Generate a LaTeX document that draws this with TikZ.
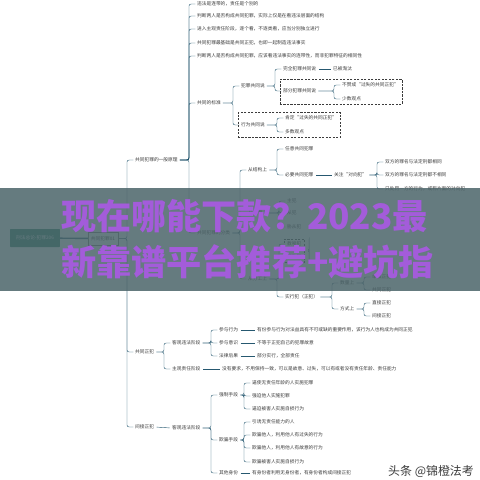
\documentclass[tikz,border=0pt]{standalone}
\usepackage{fontspec}
\setmainfont{Noto Sans CJK SC}
\usetikzlibrary{calc,fit,decorations.pathreplacing}
\definecolor{linkteal}{RGB}{38,88,112}
\definecolor{roottone}{RGB}{34,122,98}
\definecolor{bannergray}{RGB}{75,100,105}
\definecolor{bannerpurple}{RGB}{163,92,218}
\definecolor{inkgray}{RGB}{60,60,60}

% parent -> list of children, curly fork
\newcommand{\fork}[2]{%
  \foreach \c in {#2}
    \draw[link] let \p1=(\c.west), \p2=(#1.east) in
      (\p2) -- (\x1-10pt,\y2) -- (\x1-10pt,\y1) -- (\p1);}

\begin{document}
\begin{tikzpicture}[
    x=0.05cm, y=-0.05cm,
    font=\fontsize{6.7}{7}\selectfont,
    txt/.style={anchor=west, inner sep=1.5pt, text=inkgray},
    link/.style={draw=linkteal, line width=0.6pt, rounded corners=3pt, shorten <=1.5pt, shorten >=1pt},
    trunk/.style={draw=linkteal, line width=2pt},
    rootbox/.style={rectangle, rounded corners=1pt, fill=roottone, text=white, minimum width=2.5cm, minimum height=0.9cm, inner sep=1pt},
    subbox/.style={rectangle, draw=inkgray!70, fill=white, line width=0.5pt, minimum width=1.5cm, minimum height=0.65cm, inner sep=1pt, text=inkgray},
    dashbox/.style={draw=inkgray, densely dashed, line width=0.5pt, inner sep=3pt},
    bannertxt/.style={anchor=west, inner sep=0pt, text=bannerpurple, font=\fontsize{50}{50}\selectfont\bfseries},
    wmtext/.style={anchor=east, inner sep=0pt, text=inkgray, font=\fontsize{17}{17}\selectfont}
  ]
  \fill[white] (0,0) rectangle (480,480);
  \useasboundingbox (0,0) rectangle (480,480);

  \node[rootbox] (root) at (35,238) {刑法总论-犯罪206};
  \node[subbox] (g01) at (103,238.5) {共同犯罪01};
  \draw[trunk] (root) -- (g01);

  \foreach \n/\x/\y/\t in {
      yb/134/160/共同犯罪的一般原理, gz/134/352/共同正犯, jj/134/427/间接正犯,
      t1/196/4/违法是连带的，责任是个别的,
      t2/196/16/判断两人是否构成共同犯罪，实际上仅是在看违法层面的结构,
      t3/196/29/进入主观责任阶段，逐个看，不逐类看，应当分别独立进行,
      t4/196/43/共同犯罪最基础是共同正犯，也即一起制造违法事实,
      t5/196/56/判断两人是否构成共同犯罪，应该看违法事实的连带性，而非犯罪特征的相同性,
      bz/196/103/共同的标准, fl/196/233/共同犯罪的分类,
      fz/240/86/犯罪共同说, xw/240/125/行为共同说,
      wq/282/69/完全犯罪共同说, yt/332/69/已被淘汰, bf/282/91/部分犯罪共同说,
      bzc/341/85/不赞成“过失的共同正犯”, ss/341/99/少数观点,
      kd/284/118/肯定“过失的共同正犯”, ds/284/132/多数观点,
      jg/247/170/从结构上, zy/247/213/从作用上, fg/247/279/从分工上,
      ry/284/149/任意共同犯罪, by/284/175/必要共同犯罪, dx/333/175/关注“对向犯”,
      d1/384/162/双方的罪名与法定刑都相同, d2/384/175/双方的罪名与法定刑都不相同,
      d3/384/189/只处罚一方的行为，或称片面的对向犯,
      zf/286/201/主犯, cf/286/213/从犯, xc/286/227/胁从犯,
      js/286/244/教唆犯, bzf/286/257/帮助犯, sx/284/297/实行犯（正犯）,
      sl/339/283/数量上, fs/339/309/方式上,
      dd/371/277/单独正犯, gt/371/290/共同正犯, zj/371/303/直接正犯, jz/371/316/间接正犯,
      kg/171/343/客观违法阶段, zg/171/369/主观责任阶段,
      cy/218/330/参与行为, cs/218/343/参与意识, fh/218/356/法律后果,
      e1/256/330/有份参与行为对法益具有不可或缺的重要作用，该行为人也构成为共同正犯,
      e2/256/343/不等于正犯自己的犯罪故意, e3/256/356/部分实行，全部责任,
      e4/221/369/没有要求，不用保持一致，可以是故意、过失，可以有或者没有责任年龄、责任能力,
      kw/171/428/客观违法阶段,
      qz/218/395/强制手段, qp/218/440/欺骗手段, sf/218/473/其他身份,
      q1/251/383/逼使无责任年龄的人实施犯罪, q2/251/396/强迫他人实施犯罪,
      q3/251/409/逼迫被害人实施自损行为,
      p1/251/422/引诱无责任能力的人, p2/251/435/欺骗他人，利用他人有过失的行为,
      p3/251/448/欺骗他人，利用他人有故意的行为, p4/251/462/欺骗被害人实施自损行为,
      s1/251/473/有身份者利用无身份者，有身份者构成间接正犯}
    \node[txt] (\n) at (\x,\y) {\t};

  \fork{g01}{yb,gz,jj}
  \fork{yb}{t1,t2,t3,t4,t5,bz,fl}
  \fork{bz}{fz,xw}
  \fork{fz}{wq,bf}
  \fork{bf}{bzc,ss}
  \fork{xw}{kd,ds}
  \fork{fl}{jg,zy,fg}
  \fork{jg}{ry,by}
  \fork{dx}{d1,d2,d3}
  \fork{zy}{zf,cf,xc}
  \fork{fg}{js,bzf,sx}
  \fork{sx}{sl,fs}
  \fork{sl}{dd,gt}
  \fork{fs}{zj,jz}
  \fork{gz}{kg,zg}
  \fork{kg}{cy,cs,fh}
  \fork{kw}{qz,qp,sf}
  \fork{qz}{q1,q2,q3}
  \fork{qp}{p1,p2,p3,p4}
  \foreach \a/\b in {wq/yt, by/dx, cy/e1, cs/e2, fh/e3, zg/e4, jj/kw, sf/s1}
    \draw[link, shorten >=2pt, shorten <=2pt] (\a.east) -- (\b.west);

  \node[dashbox, fit=(bf)(bzc)(ss)] (bfbox) {};
  \node[dashbox, fit=(xw)(kd)(ds)] (xwbox) {};
  \node[dashbox, fit=(js)(bzf), inner sep=2pt] (gfbox) {};
  \draw[link, decorate, decoration={brace, amplitude=3pt}]
    ($(gfbox.north east)+(4,0)$) -- ($(gfbox.south east)+(4,0)$);

  % banner
  \fill[bannergray, fill opacity=0.85] (0,188) rectangle (480,291);
  \node[bannertxt] (line1) at (61,216) {现在哪能下款？2023最};
  \node[bannertxt] (line2) at (61,262) {新靠谱平台推荐+避坑指};

  \node[wmtext] (wm) at (474,471) {头条 @锦橙法考};
\end{tikzpicture}
\end{document}
